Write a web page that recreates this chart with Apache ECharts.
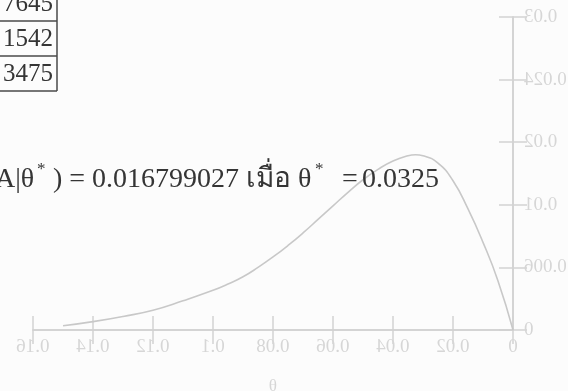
<!DOCTYPE html>
<html>
<head>
<meta charset="utf-8">
<script src="https://cdn.jsdelivr.net/npm/echarts@6/dist/echarts.min.js"></script>
<style>
  html, body { margin: 0; padding: 0; background: #fcfcfc; }
  #wrap { position: relative; width: 568px; height: 391px; overflow: hidden; }
  /* the plot is printed on the back of the sheet, so it shows through reversed */
  #plot { position: absolute; left: 0; top: 0; width: 568px; height: 391px; transform: scaleX(-1); }
  #front { position: absolute; left: 0; top: 0; width: 568px; height: 391px; pointer-events: none; }
</style>
</head>
<body>
<div id="wrap">
  <div id="plot"></div>
  <div id="front"></div>
</div>
<script>
// P(A|θ) sampled over θ
const thetaValues = [0, 0.005, 0.01, 0.015, 0.02, 0.025, 0.03, 0.0325, 0.035, 0.04, 0.045, 0.05, 0.055, 0.06, 0.065, 0.07, 0.075, 0.08, 0.085, 0.09, 0.095, 0.10, 0.11, 0.12, 0.13, 0.14, 0.15];
const probValues  = [0, 0.0047, 0.0084, 0.0116, 0.0143, 0.0160, 0.0167, 0.016799027, 0.0167, 0.0162, 0.0154, 0.0144, 0.0132, 0.0119, 0.0106, 0.0093, 0.0081, 0.0070, 0.0060, 0.0051, 0.0044, 0.0038, 0.0028, 0.0019, 0.0013, 0.0008, 0.0004];

// axis tick labels as printed
const xTickLabels = ['0', '0.02', '0.04', '0.06', '0.08', '0.1', '0.12', '0.14', '0.16'];
const yTickLabels = ['0', '0.006', '0.01', '0.02', '0.024', '0.03'];

// table cells next to the plot and the result line
const tableCells = ['7645', '1542', '3475'];
const resultPrefix = 'A|θ';
const resultMiddle = ') = 0.016799027 เมื่อ θ';
const resultEquals = '=';
const resultValue = '0.0325';

const faint = '#d2d2d2';
const faintText = '#d6d6d6';
const ink = '#353535';
const serif = '"Liberation Serif", "DejaVu Serif", serif';

const X_STEP = 0.02, Y_STEP = 0.006;

const tickStyle = { show: true, inside: true, length: 14, lineStyle: { color: faint, width: 1.5 } };
const lineStyle = { color: faint, width: 1.5 };

const plot = echarts.init(document.getElementById('plot'), null, { renderer: 'canvas' });
plot.setOption({
  animation: false,
  backgroundColor: 'transparent',
  grid: { left: 55, right: 33, top: 17, bottom: 61, containLabel: false, outerBoundsMode: 'none' },
  xAxis: [
    {
      type: 'value', position: 'bottom', min: 0, max: 0.16, interval: X_STEP,
      axisLine: { show: true, lineStyle: lineStyle },
      axisTick: tickStyle,
      splitLine: { show: false },
      axisLabel: {
        color: faintText, fontFamily: serif, fontSize: 19, margin: 8,
        formatter: v => xTickLabels[Math.round(v / X_STEP)] ?? ''
      },
      name: 'θ', nameLocation: 'middle', nameGap: 48,
      nameTextStyle: { color: faintText, fontFamily: serif, fontSize: 17 }
    },
    {
      type: 'value', position: 'top', min: 0, max: 0.16, interval: X_STEP,
      axisLine: { show: true, lineStyle: lineStyle },
      axisTick: tickStyle,
      splitLine: { show: false },
      axisLabel: { show: false }
    }
  ],
  yAxis: [
    {
      type: 'value', position: 'left', min: 0, max: 0.03, interval: Y_STEP,
      axisLine: { show: true, lineStyle: lineStyle },
      axisTick: tickStyle,
      splitLine: { show: false },
      axisLabel: {
        color: faintText, fontFamily: serif, fontSize: 19, margin: 11,
        formatter: v => yTickLabels[Math.round(v / Y_STEP)] ?? ''
      }
    },
    {
      type: 'value', position: 'right', min: 0, max: 0.03, interval: Y_STEP,
      axisLine: { show: true, lineStyle: lineStyle },
      axisTick: tickStyle,
      splitLine: { show: false },
      axisLabel: { show: false }
    }
  ],
  series: [{
    type: 'line',
    xAxisIndex: 0, yAxisIndex: 0,
    data: thetaValues.map((t, i) => [t, probValues[i]]),
    smooth: 0.5,
    showSymbol: false,
    lineStyle: { color: '#c8c8c8', width: 1.6 }
  }]
});

// foreground print: table fragment and the result line
const ROW_H = 35;
const ROW_TOP = -14;
const tableRight = 57;
const tableLines = [];
for (let i = 0; i <= tableCells.length; i++) {
  tableLines.push({
    type: 'line',
    shape: { x1: 0, y1: ROW_TOP + i * ROW_H, x2: tableRight, y2: ROW_TOP + i * ROW_H },
    style: { stroke: '#4a4a4a', lineWidth: 1.5 }
  });
}
tableLines.push({
  type: 'line',
  shape: { x1: tableRight, y1: 0, x2: tableRight, y2: ROW_TOP + tableCells.length * ROW_H },
  style: { stroke: '#4a4a4a', lineWidth: 1.5 }
});
const tableTexts = tableCells.map((s, i) => ({
  type: 'text',
  x: tableRight - 4, y: ROW_TOP + ROW_H / 2 + i * ROW_H + 1,
  style: { text: s, fill: ink, font: '25px ' + serif, textAlign: 'right', textVerticalAlign: 'middle' }
}));

const lineY = 180;
const bigFont = '28px ' + serif;
const supFont = '17px ' + serif;
const resultTexts = [
  { type: 'text', x: -5, y: lineY, style: { text: resultPrefix, fill: ink, font: bigFont, textVerticalAlign: 'middle' } },
  { type: 'text', x: 37, y: lineY - 10, style: { text: '*', fill: ink, font: supFont, textVerticalAlign: 'middle' } },
  { type: 'text', x: 53, y: lineY, style: { text: resultMiddle, fill: ink, font: bigFont, textVerticalAlign: 'middle' } },
  { type: 'text', x: 315, y: lineY - 10, style: { text: '*', fill: ink, font: supFont, textVerticalAlign: 'middle' } },
  { type: 'text', x: 342, y: lineY, style: { text: resultEquals, fill: ink, font: bigFont, textVerticalAlign: 'middle' } },
  { type: 'text', x: 362, y: lineY, style: { text: resultValue, fill: ink, font: bigFont, textVerticalAlign: 'middle' } }
];

const front = echarts.init(document.getElementById('front'), null, { renderer: 'canvas' });
front.setOption({
  animation: false,
  backgroundColor: 'transparent',
  graphic: [].concat(tableLines, tableTexts, resultTexts)
});
</script>
</body>
</html>
